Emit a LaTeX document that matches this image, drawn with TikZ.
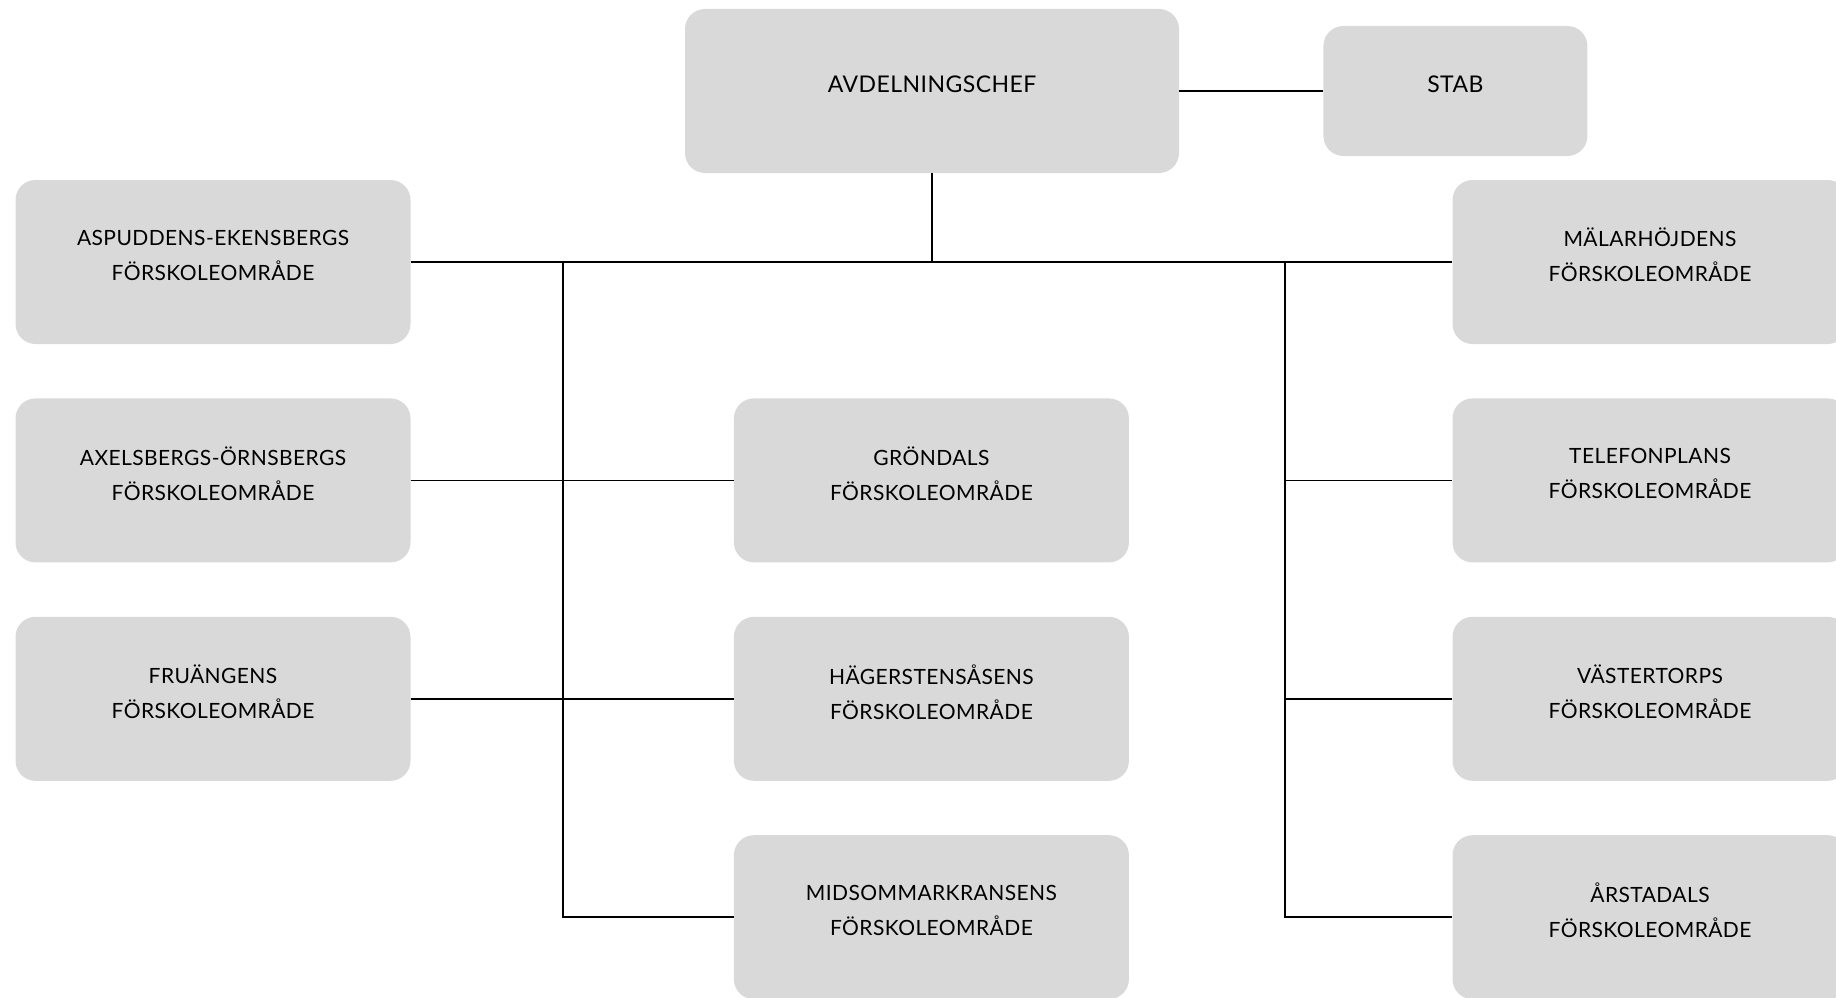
\documentclass[tikz,border=0pt]{standalone}
\usepackage{fontspec}
\setmainfont{Lato}
\newfontfamily\boxfont[LetterSpace=2]{Lato}
\usepackage{tikz}
\usetikzlibrary{positioning}
\definecolor{boxgray}{gray}{0.85}

\begin{document}
\begin{tikzpicture}[x=1pt,y=-1pt]
\tikzstyle{main}=[rectangle, rounded corners=20pt, fill=boxgray, minimum width=395pt, minimum height=164pt, align=center, text depth=14pt, font=\boxfont\fontsize{21}{35}\selectfont, node distance=54pt]
\tikzstyle{head}=[font=\boxfont\fontsize{23}{35}\selectfont]
\tikzstyle{connect}=[line width=1.5pt]
  \clip (0,0) rectangle (1836,998);
  % avdelningschef
  \node[main, head, minimum width=494pt] (chef) at (932,91) {AVDELNINGSCHEF};
  % stab
  \node[main, head, minimum width=264pt, minimum height=130pt] (stab) [right=144pt of chef] {STAB};
  % left column
  \node[main] (aspudden) at (213,262) {ASPUDDENS-EKENSBERGS\\FÖRSKOLEOMRÅDE};
  \node[main] (axelsberg) [below=of aspudden] {AXELSBERGS-ÖRNSBERGS\\FÖRSKOLEOMRÅDE};
  \node[main] (fruangen) [below=of axelsberg] {FRUÄNGENS\\FÖRSKOLEOMRÅDE};
  % middle column
  \node[main] (grondal) [right=323pt of axelsberg] {GRÖNDALS\\FÖRSKOLEOMRÅDE};
  \node[main] (hagersten) [below=of grondal] {HÄGERSTENSÅSENS\\FÖRSKOLEOMRÅDE};
  \node[main] (midsommar) [below=of hagersten] {MIDSOMMARKRANSENS\\FÖRSKOLEOMRÅDE};
  % right column
  \node[main] (malar) at (1650,262) {MÄLARHÖJDENS\\FÖRSKOLEOMRÅDE};
  \node[main] (telefon) [below=of malar] {TELEFONPLANS\\FÖRSKOLEOMRÅDE};
  \node[main] (vaster) [below=of telefon] {VÄSTERTORPS\\FÖRSKOLEOMRÅDE};
  \node[main] (arsta) [below=of vaster] {ÅRSTADALS\\FÖRSKOLEOMRÅDE};
  % split points on the main line
  \coordinate (lsplit) at (563,262);
  \coordinate (rsplit) at (1285,262);
  \path (chef) edge [connect] (stab)
        (aspudden) edge [connect] (malar)
        (axelsberg) edge [connect] (grondal)
        (fruangen) edge [connect] (hagersten);
  \draw[connect] (chef.south) -- (chef.south |- aspudden.east);
  \draw[connect] (lsplit) |- (midsommar.west);
  \draw[connect] (rsplit) |- (arsta.west);
  \draw[connect] (rsplit |- telefon.west) -- (telefon.west);
  \draw[connect] (rsplit |- vaster.west) -- (vaster.west);
\end{tikzpicture}
\end{document}
